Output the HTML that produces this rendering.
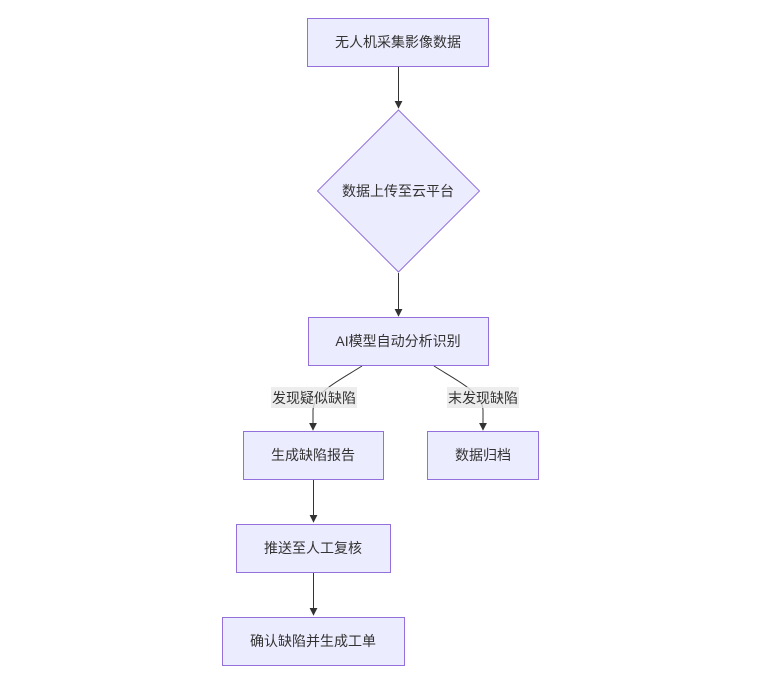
<!DOCTYPE html>
<html><head><meta charset="utf-8"><style>
body{margin:0;background:#fff;}
text{font-family:"Liberation Sans","Noto Sans CJK SC",sans-serif;font-size:14px;fill:#333;}
</style></head><body>
<svg width="760" height="692" viewBox="0 0 760 692" xmlns="http://www.w3.org/2000/svg">
<defs><marker id="a" viewBox="0 0 10 10" refX="9" refY="5" markerWidth="8" markerHeight="8" orient="auto"><path d="M0,0L10,5L0,10z" fill="#333"/></marker></defs>
<g fill="none" stroke="#333" stroke-width="1">
<path d="M398.5,66V108" marker-end="url(#a)"/>
<path d="M398.5,273V316" marker-end="url(#a)"/>
<path d="M362,366C340,380 314,392 313,410V430" marker-end="url(#a)"/>
<path d="M434,366C456,380 482,392 483,410V430" marker-end="url(#a)"/>
<path d="M313.5,480V522" marker-end="url(#a)"/>
<path d="M313.5,572V615" marker-end="url(#a)"/>
</g>
<g fill="#ECECFF" stroke="#9370DB" stroke-width="1">
<rect x="307.5" y="18.5" width="181" height="48"/>
<polygon points="398.5,110 479.5,191 398.5,272 317.5,191"/>
<rect x="308.5" y="317.5" width="180" height="48"/>
<rect x="243.5" y="431.5" width="140" height="48"/>
<rect x="427.5" y="431.5" width="111" height="48"/>
<rect x="236.5" y="524.5" width="154" height="48"/>
<rect x="222.5" y="617.5" width="182" height="48"/>
</g>
<rect x="271" y="387" width="86" height="21" fill="#e8e8e8" opacity="0.8"/>
<rect x="447" y="387" width="72" height="21" fill="#e8e8e8" opacity="0.8"/>
<g text-anchor="middle">
<text x="398" y="47">无人机采集影像数据</text>
<text x="398" y="196">数据上传至云平台</text>
<text x="398" y="346">AI模型自动分析识别</text>
<text x="314" y="403">发现疑似缺陷</text>
<text x="483" y="403">末发现缺陷</text>
<text x="313" y="460">生成缺陷报告</text>
<text x="483" y="460">数据归档</text>
<text x="313" y="553">推送至人工复核</text>
<text x="313" y="646">确认缺陷并生成工单</text>
</g>
</svg>
</body></html>
